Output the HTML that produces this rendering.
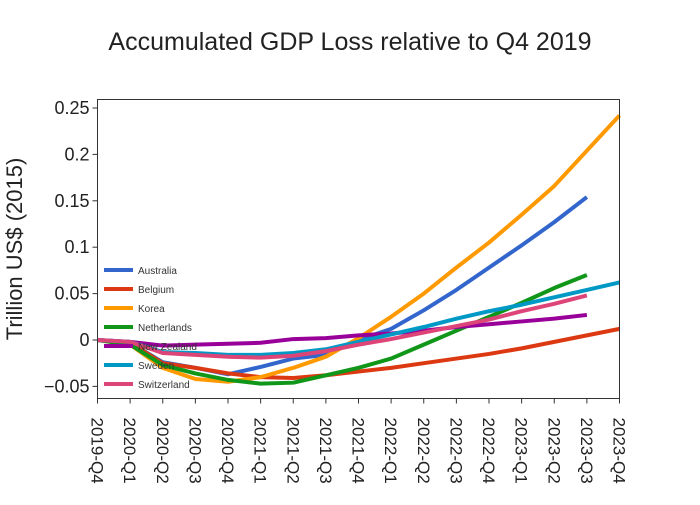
<!DOCTYPE html>
<html><head><meta charset="utf-8"><style>
body{margin:0;background:#fff;font-family:"Liberation Sans",sans-serif;}
svg text{font-family:"Liberation Sans",sans-serif;}
</style></head><body>
<svg id="chart" width="700" height="500">
<text x="350" y="50" text-anchor="middle" font-size="25" fill="#222">Accumulated GDP Loss relative to Q4 2019</text>
<text transform="translate(22,249) rotate(-90)" text-anchor="middle" font-size="22" fill="#222">Trillion US$ (2015)</text>
<g id="plot"></g>
</svg>
<script>
const categories=["2019-Q4","2020-Q1","2020-Q2","2020-Q3","2020-Q4","2021-Q1","2021-Q2","2021-Q3","2021-Q4","2022-Q1","2022-Q2","2022-Q3","2022-Q4","2023-Q1","2023-Q2","2023-Q3","2023-Q4"];
const yTicks=[-0.05,0,0.05,0.1,0.15,0.2,0.25];
const yTickLabels=["−0.05","0","0.05","0.1","0.15","0.2","0.25"];
const seriesNames=["Australia","Belgium","Korea","Netherlands","New Zealand","Sweden","Switzerland"];
const seriesColors=["#3366cc","#dc3912","#ff9900","#109618","#990099","#0099c6","#dd4477"];
const australia=[0,-0.003,-0.024,-0.03,-0.037,-0.029,-0.02,-0.016,0,0.012,0.032,0.054,0.078,0.102,0.127,0.154];
const belgium=[0,-0.003,-0.025,-0.03,-0.036,-0.04,-0.041,-0.038,-0.034,-0.03,-0.025,-0.02,-0.015,-0.009,-0.002,0.005,0.012];
const korea=[0,-0.005,-0.03,-0.042,-0.045,-0.04,-0.03,-0.018,0.002,0.025,0.05,0.078,0.105,0.135,0.166,0.204,0.242];
const netherlands=[0,-0.005,-0.027,-0.036,-0.043,-0.047,-0.046,-0.038,-0.03,-0.02,-0.005,0.01,0.025,0.04,0.056,0.07];
const newZealand=[0,-0.002,-0.006,-0.005,-0.004,-0.003,0.001,0.002,0.005,0.007,0.01,0.014,0.017,0.02,0.023,0.027];
const sweden=[0,-0.002,-0.013,-0.014,-0.016,-0.016,-0.014,-0.01,-0.002,0.006,0.014,0.023,0.031,0.038,0.046,0.054,0.062];
const switzerland=[0,-0.002,-0.014,-0.016,-0.018,-0.019,-0.017,-0.012,-0.005,0.001,0.008,0.015,0.022,0.031,0.039,0.048];
const seriesData=[australia,belgium,korea,netherlands,newZealand,sweden,switzerland];

const NS="http://www.w3.org/2000/svg";
const L=97.5,R=619.5,T=99.5,B=398.5;
const x=i=>L+i*(R-L)/(categories.length-1);
const y=v=>340-v*928;
const g=document.getElementById('plot');
function mk(t,a,p){const e=document.createElementNS(NS,t);for(const k in a)e.setAttribute(k,a[k]);(p||g).appendChild(e);return e;}

seriesData.forEach((d,s)=>{
  const p=mk('polyline',{points:d.map((v,i)=>x(i)+','+y(v)).join(' '),fill:'none',stroke:seriesColors[s],'stroke-width':4,'stroke-linejoin':'round'});
  
  
});
const frame=mk('rect',{x:L,y:T,width:R-L,height:B-T,fill:'none',stroke:'#333','stroke-width':1});



yTicks.forEach((v,i)=>{
  mk('line',{x1:L-5,x2:L,y1:y(v),y2:y(v),stroke:'#333'});
  const t=mk('text',{x:L-8,y:y(v)+6,'text-anchor':'end','font-size':18,fill:'#222'});
  t.textContent=yTickLabels[i];
  
  
});
categories.forEach((c,i)=>{
  mk('line',{x1:x(i),x2:x(i),y1:B,y2:B+5,stroke:'#333'});
  const t=mk('text',{transform:'translate('+(x(i)-6)+','+(B+19)+') rotate(90)','text-anchor':'start','font-size':17,fill:'#222'});
  t.textContent=c;
  
  
});
seriesNames.forEach((n,s)=>{
  const ly=270+s*19;
  const lg=mk('g',{});
  
  
  mk('line',{x1:104,x2:133,y1:ly,y2:ly,stroke:seriesColors[s],'stroke-width':4},lg);
  const t=mk('text',{x:138,y:ly+4,'font-size':10,fill:'#333'},lg);
  t.textContent=n;
});
</script>
</body></html>
